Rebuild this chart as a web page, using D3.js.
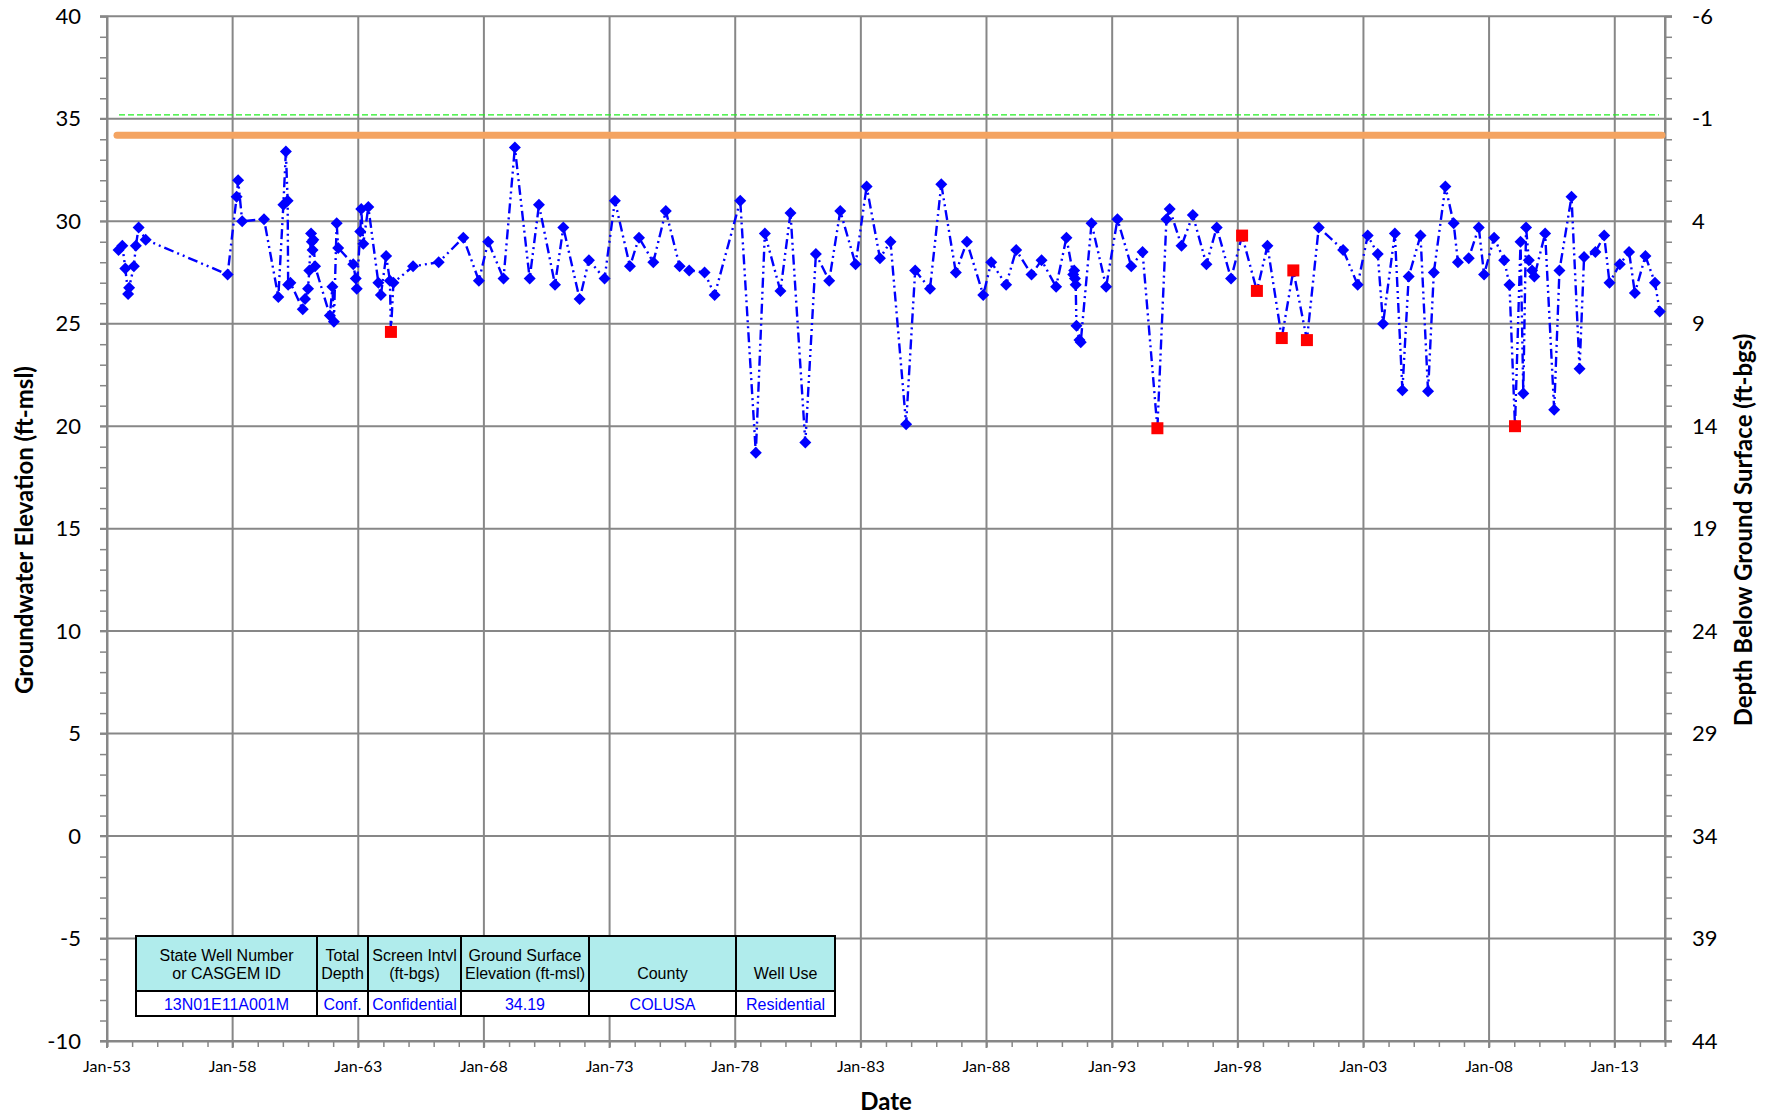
<!DOCTYPE html>
<html><head><meta charset="utf-8">
<script src="https://cdn.jsdelivr.net/npm/d3@7"></script>
<style>body{margin:0;background:#fff} svg{display:block}</style>
</head><body>
<svg id="chart" width="1776" height="1118"></svg>
<script>
// ---- data (decimal years, elevation ft-msl) ----
const goodDates = [1953.46,1953.61,1953.73,1953.84,1953.88,1954.07,1954.15,1954.26,1954.54,1957.80,
 1958.16,1958.22,1958.38,1959.25,1959.82,1960.02,1960.12,1960.19,1960.21,1960.30,
 1960.79,1960.88,1961.00,1961.05,1961.12,1961.15,1961.18,1961.21,1961.28,1961.87,
 1961.97,1962.03,1962.14,1962.20,1962.80,1962.90,1962.94,1963.08,1963.12,1963.20,
 1963.40,1963.80,1963.90,1964.11,1964.26,1964.40,1965.18,1966.20,1967.18,1967.80,
 1968.17,1968.78,1969.23,1969.82,1970.19,1970.83,1971.16,1971.81,1972.18,1972.80,
 1973.21,1973.81,1974.17,1974.74,1975.24,1975.79,1976.17,1976.78,1977.18,1978.20,
 1978.82,1979.18,1979.80,1980.20,1980.79,1981.21,1981.74,1982.18,1982.79,1983.23,
 1983.76,1984.18,1984.80,1985.16,1985.75,1986.20,1986.78,1987.22,1987.87,1988.19,
 1988.78,1989.18,1989.79,1990.19,1990.77,1991.18,1991.45,1991.49,1991.52,1991.55,
 1991.58,1991.70,1991.75,1992.18,1992.76,1993.21,1993.76,1994.21,1995.16,1995.29,
 1995.76,1996.21,1996.75,1997.16,1997.73,1999.18,2001.22,2002.19,2002.77,2003.17,
 2003.57,2003.78,2004.25,2004.55,2004.80,2005.27,2005.57,2005.80,2006.26,2006.59,
 2006.76,2007.19,2007.59,2007.80,2008.20,2008.60,2008.81,2009.25,2009.36,2009.47,
 2009.58,2009.71,2009.80,2010.23,2010.59,2010.80,2011.28,2011.60,2011.78,2012.23,
 2012.58,2012.79,2013.20,2013.57,2013.80,2014.22,2014.60,2014.79];
const goodLevels = [28.6,28.8,27.7,26.45,26.75,27.8,28.8,29.7,29.1,27.4,
 31.2,32.0,30.0,30.1,26.3,30.8,33.4,31.0,26.9,27.0,
 25.7,26.2,26.7,27.6,29.4,29.0,28.6,29.1,27.8,25.4,
 26.8,25.1,29.9,28.7,27.9,27.2,26.7,29.5,30.6,28.9,
 30.7,27.0,26.4,28.3,27.1,27.0,27.8,28.0,29.2,27.1,
 29.0,27.2,33.6,27.2,30.8,26.9,29.7,26.2,28.1,27.2,
 31.0,27.8,29.2,28.0,30.5,27.8,27.6,27.5,26.4,31.0,
 18.7,29.4,26.6,30.4,19.2,28.4,27.1,30.5,27.9,31.7,
 28.2,29.0,20.1,27.6,26.7,31.8,27.5,29.0,26.4,28.0,
 26.9,28.6,27.4,28.1,26.8,29.2,27.4,27.6,27.2,26.9,
 24.9,24.2,24.1,29.9,26.8,30.1,27.8,28.5,30.1,30.6,
 28.8,30.3,27.9,29.7,27.2,28.8,29.7,28.6,26.9,29.3,
 28.4,25.0,29.4,21.75,27.3,29.3,21.7,27.5,31.7,29.9,
 28.0,28.2,29.7,27.4,29.2,28.1,26.9,29.0,21.6,29.7,
 28.1,27.6,27.3,29.4,20.8,27.6,31.2,22.8,28.25,28.5,
 29.3,27.0,27.9,28.5,26.5,28.3,27.0,25.6];
const questDates = [1964.30,1994.80,1998.17,1998.76,1999.75,2000.21,2000.75,2009.03];
const questLevels = [24.6,19.9,29.3,26.6,24.3,27.6,24.2,20.0];
const groundSurfaceElev = 34.19;
const referenceElev = 35.19;
const leftTicks = [-10,-5,0,5,10,15,20,25,30,35,40];
const rightTicks = [-6,-1,4,9,14,19,24,29,34,39,44];
const xTickYears = [1953,1958,1963,1968,1973,1978,1983,1988,1993,1998,2003,2008,2013];
const tableHeaders = [["State Well Number","or CASGEM ID"],["Total","Depth"],["Screen Intvl","(ft-bgs)"],["Ground Surface","Elevation (ft-msl)"],["","County"],["","Well Use"]];
const tableValues = ["13N01E11A001M","Conf.","Confidential","34.19","COLUSA","Residential"];

// ---- layout ----
const L = 107, R = 1665, T = 16.3, B = 1041;
const FONT = "Lato, 'Open Sans', sans-serif";
const svg = d3.select("#chart");

function yd(d){ const y=Math.floor(d); const s=new Date(y,0,1), e=new Date(y+1,0,1); return new Date(+s + (d-y)*(e-s)); }

const x = d3.scaleTime().domain([new Date(1953,0,1), new Date(2015,0,1)]).range([L,R]);
const y = d3.scaleLinear().domain([-10,40]).range([B,T]);
const yR = d3.scaleLinear().domain([44,-6]).range([B,T]);

const grid = svg.append("g");
const GC = "#878787";
grid.selectAll("line.h").data(leftTicks).join("line")
  .attr("x1",L-7).attr("x2",R+7).attr("y1",d=>y(d)).attr("y2",d=>y(d))
  .attr("stroke",GC).attr("stroke-width",2);
grid.selectAll("line.v").data(xTickYears).join("line")
  .attr("x1",d=>x(yd(d))).attr("x2",d=>x(yd(d))).attr("y1",T).attr("y2",B+7)
  .attr("stroke",GC).attr("stroke-width",2);
grid.append("line").attr("x1",L).attr("x2",L).attr("y1",T).attr("y2",B).attr("stroke",GC).attr("stroke-width",2);
grid.append("line").attr("x1",R).attr("x2",R).attr("y1",T).attr("y2",B).attr("stroke",GC).attr("stroke-width",2);

const minorY = d3.range(-10,41,1);
const axL = svg.append("g").attr("transform",`translate(${L},0)`)
  .call(d3.axisLeft(y).tickValues(minorY).tickSize(7).tickFormat(""));
const axR = svg.append("g").attr("transform",`translate(${R},0)`)
  .call(d3.axisRight(yR).tickValues(d3.range(-6,45,1)).tickSize(7).tickFormat(""));
const minorX = d3.range(1953,2015,1).map(yd);
const axB = svg.append("g").attr("transform",`translate(0,${B})`)
  .call(d3.axisBottom(x).tickValues(minorX).tickSize(6).tickFormat(""));
[axL,axR,axB].forEach(a=>{ a.selectAll("path.domain").attr("stroke",GC).attr("stroke-width",2);
  a.selectAll(".tick line").attr("stroke",GC).attr("stroke-width",1.5); });

svg.append("g").selectAll("text").data(leftTicks).join("text")
  .attr("x",L-26).attr("y",d=>y(d)).attr("dy","0.35em").attr("text-anchor","end")
  .attr("font-family",FONT).attr("font-size",22).attr("fill","#000").text(d=>d);
svg.append("g").selectAll("text").data(rightTicks).join("text")
  .attr("x",R+27).attr("y",d=>yR(d)).attr("dy","0.35em").attr("text-anchor","start")
  .attr("font-family",FONT).attr("font-size",22).attr("fill","#000").text(d=>d);
const fmt = d3.timeFormat("%b-%y");
svg.append("g").selectAll("text").data(xTickYears).join("text")
  .attr("x",d=>x(yd(d))).attr("y",1066).attr("dy","0.35em").attr("text-anchor","middle")
  .attr("font-family",FONT).attr("font-size",16).attr("fill","#000").text(d=>fmt(yd(d)));

svg.append("text").attr("x",886).attr("y",1102).attr("dy","0.35em").attr("text-anchor","middle")
  .attr("font-family",FONT).attr("font-weight","bold").attr("font-size",24).text("Date");
svg.append("text").attr("transform","translate(25,530) rotate(-90)").attr("dy","0.35em").attr("text-anchor","middle")
  .attr("font-family",FONT).attr("font-weight","bold").attr("font-size",24).text("Groundwater Elevation (ft-msl)");
svg.append("text").attr("transform","translate(1744,530) rotate(-90)").attr("dy","0.35em").attr("text-anchor","middle")
  .attr("font-family",FONT).attr("font-weight","bold").attr("font-size",24).text("Depth Below Ground Surface (ft-bgs)");

svg.append("line").attr("x1",119).attr("x2",1659).attr("y1",y(referenceElev)).attr("y2",y(referenceElev))
  .attr("stroke","#22ee22").attr("stroke-width",1.4).attr("stroke-dasharray","6,3");
svg.append("line").attr("x1",117).attr("x2",1662).attr("y1",y(groundSurfaceElev)).attr("y2",y(groundSurfaceElev))
  .attr("stroke","#f4a462").attr("stroke-width",7).attr("stroke-linecap","round");

const good = goodDates.map((d,i)=>({date:yd(d), v:goodLevels[i]}));
const quest = questDates.map((d,i)=>({date:yd(d), v:questLevels[i]}));
const all = good.concat(quest).sort((a,b)=>a.date-b.date);
const line = d3.line().x(d=>x(d.date)).y(d=>y(d.v));
svg.append("path").datum(all).attr("d",line).attr("fill","none")
  .attr("stroke","#0000ff").attr("stroke-width",2.4).attr("stroke-dasharray","10,4,2,4,2,4");
const r = 6;
svg.append("g").selectAll("path").data(good).join("path")
  .attr("transform",d=>`translate(${x(d.date)},${y(d.v)})`)
  .attr("d",`M0,${-r}L${r},0L0,${r}L${-r},0Z`).attr("fill","#0000ff");
svg.append("g").selectAll("rect").data(quest).join("rect")
  .attr("x",d=>x(d.date)-6).attr("y",d=>y(d.v)-6).attr("width",12).attr("height",12).attr("fill","#ff0000");

const cols = [136,317,368,461,589,736,835];
const tTop = 936, tMid = 991, tBot = 1016;
const tbl = svg.append("g");
tbl.append("rect").attr("x",cols[0]).attr("y",tTop).attr("width",cols[6]-cols[0]).attr("height",tMid-tTop).attr("fill","#b0ecec");
tbl.append("rect").attr("x",cols[0]).attr("y",tMid).attr("width",cols[6]-cols[0]).attr("height",tBot-tMid).attr("fill","#fff");
cols.forEach(c=>tbl.append("line").attr("x1",c).attr("x2",c).attr("y1",tTop).attr("y2",tBot).attr("stroke","#000").attr("stroke-width",2));
[tTop,tMid,tBot].forEach(v=>tbl.append("line").attr("x1",cols[0]-1).attr("x2",cols[6]+1).attr("y1",v).attr("y2",v).attr("stroke","#000").attr("stroke-width",2));
tableHeaders.forEach((h,i)=>{
  const cx=(cols[i]+cols[i+1])/2;
  h.forEach((t,j)=>{ if(!t) return;
    tbl.append("text").attr("x",cx).attr("y",j===0?955:973).attr("dy","0.35em").attr("text-anchor","middle")
      .attr("font-family","'Liberation Sans', Arial, sans-serif").attr("font-size",16).attr("fill","#000").text(t); });
  tbl.append("text").attr("x",cx).attr("y",1004).attr("dy","0.35em").attr("text-anchor","middle")
    .attr("font-family","'Liberation Sans', Arial, sans-serif").attr("font-size",16).attr("fill","#0000ff").text(tableValues[i]);
});
</script>
</body></html>
